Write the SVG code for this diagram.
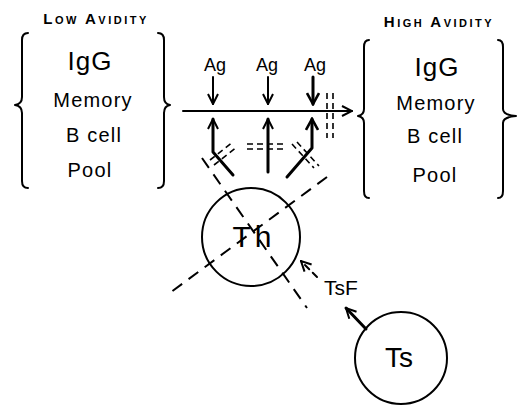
<svg xmlns="http://www.w3.org/2000/svg" width="521" height="405" viewBox="0 0 521 405">
<style>
.t{font-family:"Liberation Sans",Arial,sans-serif;fill:#000;text-anchor:middle}
.hd{font-size:15px;font-variant:small-caps;font-weight:bold;letter-spacing:2.5px}
.big{font-size:26px;letter-spacing:1px}
.mid{font-size:20px;letter-spacing:1.2px}
.ag{font-size:18px}
.ln{stroke:#000;stroke-width:2;fill:none;stroke-linecap:round;stroke-linejoin:round}
.th{stroke-width:3}
.ds{stroke:#000;stroke-width:2;fill:none;stroke-dasharray:12 8}
.dd{stroke:#000;stroke-width:1.6;fill:none;stroke-dasharray:6 4}
.c{stroke:#000;stroke-width:2;fill:none}
</style>
<defs>
<marker id="ah" viewBox="0 0 12 12" refX="11" refY="6" markerWidth="12" markerHeight="12" markerUnits="userSpaceOnUse" orient="auto">
<path d="M1 1 L11 6 L1 11" fill="none" stroke="#000" stroke-width="2"/>
</marker>
<marker id="ahb" viewBox="0 0 14 14" refX="12" refY="7" markerWidth="14" markerHeight="14" markerUnits="userSpaceOnUse" orient="auto">
<path d="M1 1 L12 7 L1 13" fill="none" stroke="#000" stroke-width="2.6"/>
</marker>
</defs>
<g id="low-avidity-pool">
<text class="t hd" x="96" y="24">Low Avidity</text>
<path class="ln" d="M28 33 Q22 33 22 40 L22 97 Q22 104 15 105 Q22 106 22 113 L22 181 Q22 188 28 188"/>
<path class="ln" d="M158 33 Q164 33 164 40 L164 97 Q164 104 170 105 Q164 106 164 113 L164 181 Q164 188 158 188"/>
<text class="t big" x="90" y="70">IgG</text>
<text class="t mid" x="93" y="107">Memory</text>
<text class="t mid" x="94" y="142">B cell</text>
<text class="t mid" x="90" y="177">Pool</text>
</g>
<g id="high-avidity-pool">
<text class="t hd" x="439" y="27">High Avidity</text>
<path class="ln" d="M369 40 Q364 40 364 47 L364 109 Q364 115 358 116 Q364 117 364 123 L364 191 Q364 198 369 198"/>
<path class="ln" d="M498 40 Q503 40 503 47 L503 109 Q503 115 516 116 Q503 117 503 123 L503 191 Q503 198 498 198"/>
<text class="t big" x="437" y="76">IgG</text>
<text class="t mid" x="436" y="110">Memory</text>
<text class="t mid" x="435" y="143">B cell</text>
<text class="t mid" x="435" y="182">Pool</text>
</g>
<g id="ag-1"><text class="t ag" x="215" y="71">Ag</text></g>
<g id="ag-2"><text class="t ag" x="267" y="71">Ag</text></g>
<g id="ag-3"><text class="t ag" x="315" y="71">Ag</text></g>
<g id="th">
<circle class="c" cx="251" cy="237" r="49"/>
<text class="t" style="font-size:30px;letter-spacing:4px" x="254" y="247">Th</text>
</g>
<g id="tsf"><text class="t" style="font-size:21px" x="341" y="295">TsF</text></g>
<g id="ts">
<circle class="c" cx="401" cy="358" r="46"/>
<text class="t" style="font-size:28px" x="399" y="367">Ts</text>
</g>
<g id="connectors">
<line class="ln" x1="183" y1="111" x2="352" y2="111" marker-end="url(#ah)"/>
<line class="ln" x1="213" y1="77" x2="213" y2="104" marker-end="url(#ah)"/>
<line class="ln" x1="268" y1="77" x2="268" y2="104" marker-end="url(#ah)"/>
<line class="ln th" x1="313" y1="77" x2="313" y2="104" marker-end="url(#ahb)"/>
<polyline class="ln th" points="233,175 213,152 213,119" marker-end="url(#ah)"/>
<line class="ln th" x1="268" y1="172" x2="268" y2="119" marker-end="url(#ah)"/>
<polyline class="ln th" points="287,177 312,148 312,119" marker-end="url(#ahb)"/>
<line class="dd" x1="327" y1="93" x2="327" y2="138"/>
<line class="dd" x1="333" y1="93" x2="333" y2="138"/>
<line class="dd" x1="210" y1="160" x2="233" y2="142"/>
<line class="dd" x1="214" y1="165" x2="237" y2="147"/>
<line class="dd" x1="247" y1="144" x2="287" y2="144"/>
<line class="dd" x1="247" y1="149" x2="287" y2="149"/>
<line class="dd" x1="292" y1="144" x2="314" y2="168"/>
<line class="dd" x1="297" y1="142" x2="319" y2="166"/>
<line class="ds" x1="202" y1="158" x2="307" y2="308"/>
<line class="ds" x1="327" y1="177" x2="167" y2="295"/>
<line class="ln" x1="317" y1="277" x2="301" y2="261" stroke-dasharray="6 5" marker-end="url(#ah)"/>
<line class="ln th" x1="366" y1="329" x2="346" y2="308" marker-end="url(#ah)"/>
</g>
</svg>
